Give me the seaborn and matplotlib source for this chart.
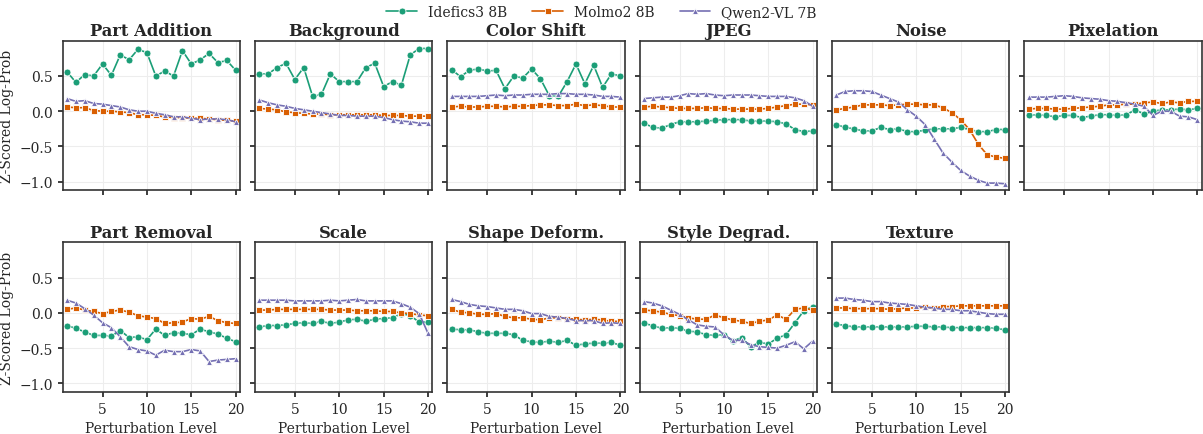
import numpy as np
import pandas as pd
import matplotlib
matplotlib.use("Agg")
import matplotlib.pyplot as plt
import seaborn as sns

levels = list(range(1, 21))
models = ["Idefics3 8B", "Molmo2 8B", "Qwen2-VL 7B"]
perturbations = ["Part Addition", "Background", "Color Shift", "JPEG", "Noise", "Pixelation",
                 "Part Removal", "Scale", "Shape Deform.", "Style Degrad.", "Texture"]

idefics = {
    "Part Addition": [0.56, 0.41, 0.52, 0.50, 0.67, 0.51, 0.80, 0.73, 0.88, 0.83, 0.50, 0.57, 0.50, 0.86, 0.67, 0.73, 0.82, 0.69, 0.72, 0.58],
    "Background":    [0.53, 0.53, 0.62, 0.68, 0.45, 0.62, 0.21, 0.24, 0.53, 0.42, 0.42, 0.42, 0.62, 0.68, 0.35, 0.42, 0.37, 0.80, 0.89, 0.89],
    "Color Shift":   [0.59, 0.49, 0.58, 0.60, 0.57, 0.58, 0.32, 0.50, 0.47, 0.60, 0.46, 0.22, 0.21, 0.42, 0.67, 0.39, 0.65, 0.34, 0.53, 0.50],
    "JPEG":          [-0.17, -0.23, -0.24, -0.19, -0.15, -0.15, -0.15, -0.14, -0.13, -0.12, -0.12, -0.12, -0.14, -0.14, -0.14, -0.15, -0.18, -0.26, -0.29, -0.28],
    "Noise":         [-0.19, -0.23, -0.25, -0.28, -0.28, -0.23, -0.26, -0.25, -0.29, -0.29, -0.27, -0.25, -0.25, -0.25, -0.23, -0.26, -0.29, -0.29, -0.26, -0.26],
    "Pixelation":    [-0.06, -0.05, -0.06, -0.08, -0.06, -0.06, -0.09, -0.07, -0.05, -0.05, -0.06, -0.05, 0.02, -0.04, 0.00, 0.02, 0.02, 0.03, 0.02, 0.04],
    "Part Removal":  [-0.18, -0.22, -0.27, -0.32, -0.32, -0.33, -0.25, -0.35, -0.34, -0.38, -0.23, -0.32, -0.28, -0.29, -0.31, -0.23, -0.27, -0.30, -0.36, -0.41],
    "Scale":         [-0.20, -0.18, -0.18, -0.17, -0.15, -0.14, -0.15, -0.12, -0.15, -0.13, -0.10, -0.09, -0.12, -0.09, -0.08, -0.07, -0.01, -0.04, -0.13, -0.13],
    "Shape Deform.": [-0.23, -0.24, -0.24, -0.27, -0.29, -0.29, -0.29, -0.31, -0.39, -0.41, -0.42, -0.40, -0.42, -0.39, -0.46, -0.44, -0.43, -0.43, -0.42, -0.46],
    "Style Degrad.": [-0.15, -0.18, -0.22, -0.21, -0.22, -0.26, -0.27, -0.31, -0.32, -0.31, -0.40, -0.35, -0.48, -0.42, -0.44, -0.36, -0.31, -0.14, 0.03, 0.09],
    "Texture":       [-0.16, -0.18, -0.20, -0.20, -0.20, -0.20, -0.20, -0.20, -0.20, -0.19, -0.19, -0.20, -0.20, -0.21, -0.21, -0.21, -0.21, -0.21, -0.22, -0.24],
}
molmo = {
    "Part Addition": [0.06, 0.05, 0.05, 0.01, 0.00, 0.00, -0.01, -0.02, -0.05, -0.05, -0.06, -0.08, -0.09, -0.09, -0.10, -0.10, -0.11, -0.12, -0.13, -0.14],
    "Background":    [0.04, 0.03, 0.02, -0.01, -0.02, -0.03, -0.04, -0.04, -0.05, -0.05, -0.05, -0.05, -0.05, -0.05, -0.06, -0.06, -0.06, -0.07, -0.07, -0.07],
    "Color Shift":   [0.06, 0.07, 0.06, 0.06, 0.07, 0.07, 0.06, 0.07, 0.07, 0.08, 0.09, 0.09, 0.08, 0.08, 0.10, 0.08, 0.09, 0.08, 0.06, 0.06],
    "JPEG":          [0.06, 0.07, 0.06, 0.05, 0.04, 0.04, 0.04, 0.05, 0.04, 0.04, 0.03, 0.03, 0.03, 0.03, 0.04, 0.06, 0.08, 0.10, 0.10, 0.09],
    "Noise":         [0.02, 0.04, 0.06, 0.09, 0.09, 0.09, 0.08, 0.09, 0.10, 0.10, 0.09, 0.09, 0.05, -0.02, -0.12, -0.26, -0.47, -0.62, -0.65, -0.67],
    "Pixelation":    [0.03, 0.04, 0.04, 0.03, 0.03, 0.04, 0.05, 0.06, 0.07, 0.09, 0.09, 0.10, 0.10, 0.12, 0.13, 0.11, 0.13, 0.12, 0.14, 0.14],
    "Part Removal":  [0.05, 0.07, 0.04, 0.02, -0.01, 0.02, 0.04, 0.01, -0.04, -0.06, -0.08, -0.15, -0.14, -0.13, -0.08, -0.09, -0.05, -0.11, -0.14, -0.15],
    "Scale":         [0.04, 0.04, 0.05, 0.05, 0.05, 0.05, 0.05, 0.05, 0.04, 0.04, 0.04, 0.03, 0.03, 0.03, 0.02, 0.02, 0.00, -0.01, -0.03, -0.04],
    "Shape Deform.": [0.05, 0.01, 0.00, -0.02, -0.02, -0.01, -0.05, -0.07, -0.07, -0.09, -0.10, -0.07, -0.07, -0.08, -0.09, -0.10, -0.09, -0.10, -0.12, -0.12],
    "Style Degrad.": [0.04, 0.03, 0.01, -0.02, -0.04, -0.07, -0.09, -0.09, -0.03, -0.07, -0.10, -0.12, -0.15, -0.12, -0.10, -0.03, -0.09, 0.05, 0.07, 0.04],
    "Texture":       [0.07, 0.07, 0.06, 0.06, 0.06, 0.06, 0.05, 0.06, 0.07, 0.07, 0.08, 0.07, 0.09, 0.09, 0.10, 0.10, 0.10, 0.10, 0.10, 0.10],
}
qwen = {
    "Part Addition": [0.18, 0.14, 0.15, 0.11, 0.10, 0.08, 0.06, 0.02, 0.00, 0.00, -0.03, -0.05, -0.08, -0.08, -0.10, -0.12, -0.11, -0.11, -0.12, -0.15],
    "Background":    [0.16, 0.12, 0.09, 0.07, 0.04, 0.02, 0.00, -0.02, -0.04, -0.06, -0.06, -0.07, -0.07, -0.07, -0.09, -0.12, -0.14, -0.15, -0.17, -0.17],
    "Color Shift":   [0.21, 0.21, 0.21, 0.21, 0.22, 0.23, 0.22, 0.23, 0.23, 0.24, 0.24, 0.24, 0.25, 0.25, 0.24, 0.24, 0.23, 0.21, 0.21, 0.20],
    "JPEG":          [0.18, 0.19, 0.20, 0.20, 0.22, 0.25, 0.24, 0.25, 0.23, 0.22, 0.23, 0.23, 0.23, 0.22, 0.21, 0.21, 0.21, 0.19, 0.15, 0.07],
    "Noise":         [0.23, 0.28, 0.29, 0.29, 0.28, 0.23, 0.18, 0.13, 0.02, -0.07, -0.19, -0.39, -0.59, -0.72, -0.84, -0.92, -0.98, -1.02, -1.02, -1.03],
    "Pixelation":    [0.20, 0.20, 0.20, 0.21, 0.22, 0.21, 0.19, 0.18, 0.17, 0.15, 0.14, 0.12, 0.10, 0.07, -0.06, 0.00, 0.00, -0.07, -0.08, -0.12],
    "Part Removal":  [0.18, 0.14, 0.06, -0.03, -0.14, -0.21, -0.34, -0.48, -0.52, -0.54, -0.60, -0.53, -0.55, -0.55, -0.52, -0.54, -0.69, -0.67, -0.66, -0.65],
    "Scale":         [0.18, 0.18, 0.18, 0.18, 0.17, 0.17, 0.17, 0.17, 0.18, 0.17, 0.18, 0.19, 0.17, 0.17, 0.17, 0.17, 0.13, 0.08, -0.01, -0.29],
    "Shape Deform.": [0.19, 0.16, 0.12, 0.10, 0.09, 0.07, 0.05, 0.05, 0.03, -0.01, -0.01, -0.05, -0.06, -0.08, -0.11, -0.11, -0.11, -0.15, -0.14, -0.15],
    "Style Degrad.": [0.16, 0.14, 0.10, 0.04, -0.02, -0.10, -0.17, -0.19, -0.20, -0.31, -0.39, -0.39, -0.45, -0.48, -0.49, -0.50, -0.46, -0.41, -0.51, -0.40],
    "Texture":       [0.21, 0.21, 0.19, 0.18, 0.16, 0.16, 0.14, 0.13, 0.12, 0.10, 0.08, 0.07, 0.05, 0.05, 0.03, 0.03, 0.01, -0.01, -0.02, -0.02],
}

series = {"Idefics3 8B": idefics, "Molmo2 8B": molmo, "Qwen2-VL 7B": qwen}
rows = []
for m, d in series.items():
    for p in perturbations:
        for lv, v in zip(levels, d[p]):
            rows.append({"Model": m, "Perturbation": p, "Level": lv, "Value": v})
df = pd.DataFrame(rows)

sns.set_theme(style="whitegrid")
plt.rcParams["font.family"] = ["DejaVu Serif"]
plt.rcParams.update({
    "axes.edgecolor": "0.2",
    "axes.linewidth": 1.2,
    "grid.color": "0.93",
    "grid.linewidth": 0.8,
    "xtick.bottom": True,
    "ytick.left": True,
    "xtick.major.size": 3.5,
    "ytick.major.size": 3.5,
    "xtick.color": "0.15",
    "ytick.color": "0.15",
    "xtick.labelsize": 10,
    "ytick.labelsize": 10,
})

palette = dict(zip(models, ["#1b9e77", "#d95f02", "#7570b3"]))
markers = dict(zip(models, ["o", "s", "^"]))

fig, axes = plt.subplots(2, 6, figsize=(12.03, 4.35), dpi=100, sharex=True, sharey=True)
fig.subplots_adjust(left=0.052, right=0.999, top=0.904, bottom=0.097, wspace=0.083, hspace=0.35)

for i, p in enumerate(perturbations):
    ax = axes.flat[i]
    sub = df[df["Perturbation"] == p]
    sns.lineplot(data=sub, x="Level", y="Value", hue="Model", style="Model",
                 palette=palette, markers=markers, dashes=False, markersize=5.0,
                 markeredgewidth=0.6, linewidth=1.2, ax=ax, legend=(i == 0))
    ax.set_title(p, fontsize=11.8, fontweight="bold", pad=4)
    ax.set_xlim(0.5, 20.5)
    ax.set_ylim(-1.12, 1.0)
    ax.set_xticks([5, 10, 15, 20])
    ax.set_yticks([0.5, 0.0, -0.5, -1.0])
    ax.set_ylabel("Z-Scored Log-Prob" if i % 6 == 0 else "", fontsize=10)
    ax.set_xlabel("Perturbation Level" if i >= 6 else "", fontsize=10)

axes.flat[11].remove()
for i in range(5):
    axes.flat[6 + i].xaxis.set_tick_params(labelbottom=True)
axes.flat[5].xaxis.set_tick_params(labelbottom=False)

handles, labels = axes.flat[0].get_legend_handles_labels()
axes.flat[0].get_legend().remove()
fig.legend(handles, labels, loc="upper center", ncol=3, frameon=False,
           bbox_to_anchor=(0.5, 1.015), fontsize=10, columnspacing=1.8, handlelength=2.2)

fig.savefig("out.png", dpi=100)
